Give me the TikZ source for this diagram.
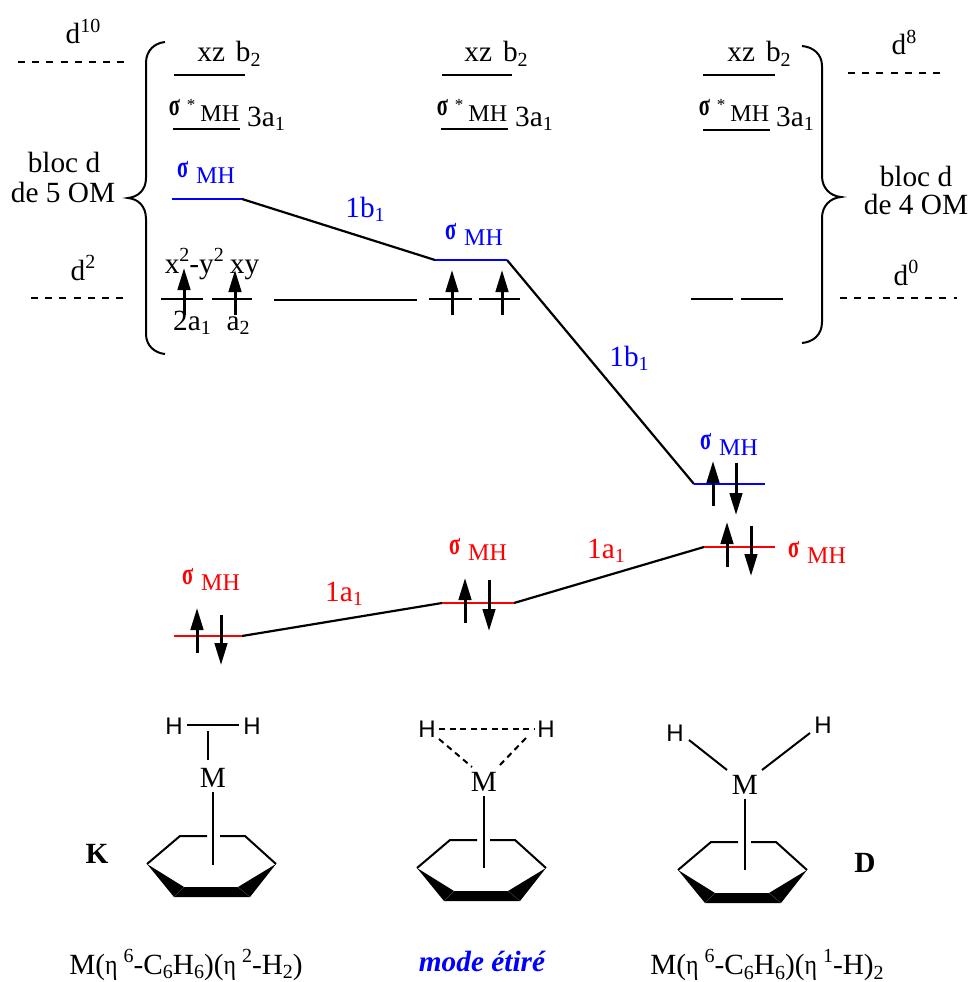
\documentclass[tikz,border=0pt]{standalone}
\usepackage{graphicx}
\usepackage{fontspec}
\setmainfont{Liberation Serif}
\newfontfamily\hfont{Liberation Sans}
\usetikzlibrary{arrows.meta,calc}
\newcommand\myup[1]{\raisebox{0.40em}{\fontsize{20}{20}\selectfont #1}}
\newcommand\mydn[1]{\raisebox{-0.17em}{\fontsize{20}{20}\selectfont #1}}
\newcommand\mysig{\raisebox{5.5pt}{\scalebox{.66}[1]{\fontsize{31}{31}\selectfont\bfseries σ}}}
\newcommand\sigMH{\mysig\hspace{8pt}{\fontsize{24}{24}\selectfont MH}}
\newcommand\sigStar{\mysig\hspace{7pt}\raisebox{10pt}{\fontsize{17}{17}\selectfont *}\hspace{5pt}{\fontsize{24}{24}\selectfont MH}}
\newcommand\myeta{\scalebox{.85}[1]{\fontsize{28}{28}\selectfont η}}
\tikzset{
  x=1pt,y=-1pt,
  txt/.style={inner sep=0pt,anchor=base,font=\fontsize{29.3}{29.3}\selectfont},
  hat/.style={inner sep=0pt,anchor=center,font=\hfont\fontsize{24}{24}\selectfont},
  lvl/.style={line width=2.2pt,black},
  dashlvl/.style={line width=2pt,dash pattern=on 7pt off 7.2pt},
  conn/.style={line width=2.2pt,black},
  bond/.style={line width=2pt,black},
  dbond/.style={line width=2pt,dash pattern=on 6pt off 4.5pt},
  brc/.style={line width=2pt,black},
  elec/.style={line width=3pt,-{Triangle[length=22pt,width=12.5pt]},black},
}
\newcommand\ringat[3]{%
  \begin{scope}[shift={(#2,#3)}]
    \coordinate (#1l) at (0,0);
    \coordinate (#1tl) at (33,-28);
    \coordinate (#1tr) at (98,-28);
    \coordinate (#1r) at (129,0);
    \coordinate (#1il) at (37,23);
    \coordinate (#1ir) at (91,23);
    \coordinate (#1ol) at (27,33);
    \coordinate (#1or) at (103,33);
    \fill[black] (#1l) -- (#1il) -- (#1ir) -- (#1r) -- (#1or) -- (#1ol) -- cycle;
    \draw[black!55,line width=0.2pt] (#1il) -- (#1ol) (#1ir) -- (#1or);
    \draw[bond,line join=miter] (#1l) -- (#1tl) -- ++(27,0);
    \draw[bond,line join=miter] (#1r) -- (#1tr) -- ++(-25,0);
  \end{scope}}
\begin{document}
\begin{tikzpicture}
\useasboundingbox (0,0) rectangle (968,982);
\fill[white] (0,0) rectangle (968,982);

% --- level end points
\foreach \n/\xa/\xb/\yy in {xa/174/245/75, xb/442/512/75, xc/703/775/75,
  sa/173/240/129, sb/441/508/129, sc/703/770/130,
  ba/172/242/199, bb/435/507/260, bc/694/765/484,
  ra/174/242/636, rb/442/514/603, rc/704/775/547,
  pa/161/203/299, qa/212/252/299, pb/429/472/299, qb/479/520/299,
  pc/691/733/299, qc/741/783/299, mid/274/417/300,
  dten/18/125/62, deight/848/945/73, dtwo/31/125/298, dzero/840/957/298}
  {\coordinate (\n L) at (\xa,\yy); \coordinate (\n R) at (\xb,\yy);}

% --- dashed reference levels
\foreach \n in {dten,deight,dtwo,dzero} \draw[dashlvl] (\n L) -- (\n R);

% --- black levels
\foreach \n in {xa,xb,xc,sa,sb,sc,pa,qa,pb,qb,pc,qc,mid} \draw[lvl] (\n L) -- (\n R);

% --- connectors
\draw[conn] (baR) -- (bbL);
\draw[conn] (bbR) -- (bcL);
\draw[conn] (raR) -- (rbL);
\draw[conn] (rbR) -- (rcL);

% --- coloured levels
\foreach \n in {ba,bb,bc} \draw[lvl,draw=blue] (\n L) -- (\n R);
\foreach \n in {ra,rb,rc} \draw[lvl,draw=red] (\n L) -- (\n R);

% --- braces
\draw[brc] (165,42) .. controls (155,43) and (146,50) .. (146,63) -- (146,178)
  .. controls (146,190) and (138,197) .. (128,198)
  .. controls (138,199) and (146,206) .. (146,219) -- (146,334)
  .. controls (146,346) and (155,353) .. (165,354);
\draw[brc] (802,46) .. controls (813,47) and (822,54) .. (822,66) -- (822,176)
  .. controls (822,188) and (830,196) .. (841,197)
  .. controls (830,198) and (822,206) .. (822,218) -- (822,322)
  .. controls (822,335) and (813,342) .. (802,343);

% --- electrons
\foreach \x/\a/\b in {184/315/268, 235/315/270, 452/315/270, 502/315/270,
  713/506/461, 727/567/522, 465/623/578, 197/653/608}
  {\coordinate (eS) at (\x,\a); \coordinate (eT) at (\x,\b); \draw[elec] (eS) -- (eT);}
\foreach \x/\a/\b in {736/463/515, 751/526/576, 489/580/631, 221/615/665}
  {\coordinate (eS) at (\x,\a); \coordinate (eT) at (\x,\b); \draw[elec] (eS) -- (eT);}

% --- top labels
\node[txt] (t1) at (83,44) {d\myup{10}};
\node[txt] (t2) at (83,280) {d\myup{2}};
\node[txt] (t3) at (904,55) {d\myup{8}};
\node[txt] (t4) at (906,285) {d\myup{0}};
\node[txt] (t5) at (64,172) {bloc d};
\node[txt] (t6) at (63,202) {de 5 OM};
\node[txt] (t7) at (916,186) {bloc d};
\node[txt] (t8) at (916,214) {de 4 OM};
\node[txt] (x1) at (229,62) {xz\hspace{11pt}b\mydn{2}};
\node[txt] (x2) at (496,62) {xz\hspace{11pt}b\mydn{2}};
\node[txt] (x3) at (759,62) {xz\hspace{11pt}b\mydn{2}};
\node[txt] (s1) at (204,121) {\sigStar};
\node[txt] (s2) at (472,121) {\sigStar};
\node[txt] (s3) at (734,121) {\sigStar};
\node[txt] (a1) at (266,126) {3a\mydn{1}};
\node[txt] (a2) at (534,126) {3a\mydn{1}};
\node[txt] (a3) at (795,126) {3a\mydn{1}};
\node[txt,blue] (b1) at (206,183) {\sigMH};
\node[txt,blue] (b2) at (474,245) {\sigMH};
\node[txt,blue] (b3) at (729,455) {\sigMH};
\node[txt,red] (r1) at (211,590) {\sigMH};
\node[txt,red] (r2) at (478,560) {\sigMH};
\node[txt,red] (r3) at (817,563) {\sigMH};
\node[txt] (o1) at (212,273) {x\myup{2}-y\myup{2}\hspace{6pt}xy};
\node[txt] (o2) at (192,330) {2a\mydn{1}};
\node[txt] (o3) at (238,330) {a\mydn{2}};
\node[txt,blue] (l1) at (365,217) {1b\mydn{1}};
\node[txt,blue] (l2) at (629,366) {1b\mydn{1}};
\node[txt,red] (l3) at (344,601) {1a\mydn{1}};
\node[txt,red] (l4) at (606,558) {1a\mydn{1}};

% --- complexes
\ringat{A}{147}{864}
\ringat{B}{417}{868}
\ringat{C}{678}{870}

\node[txt] (MA) at (213,787) {M};
\node[hat] (H1) at (174,726) {H};
\node[hat] (H2) at (252,726) {H};
\coordinate (SA) at (213,865);
\coordinate (HM) at (208,731);
\coordinate (HMb) at (208,760);
\draw[bond] ($(H1)+(13,-1)$) -- ($(H2)+(-13,-1)$);
\draw[bond] (HM) -- (HMb);
\draw[bond] ($(MA.base)+(0,5)$) -- (SA);

\node[txt] (MB) at (484,791) {M};
\node[hat] (H3) at (427,729) {H};
\node[hat] (H4) at (546,729) {H};
\coordinate (SB) at (484,868);
\draw[dbond] ($(H3)+(12,0)$) -- ($(H4)+(-12,0)$);
\draw[dbond] ($(H3)+(12,10)$) -- ($(MB.base)+(-12,-24)$);
\draw[dbond] ($(H4)+(-20,9)$) -- ($(MB.base)+(14,-24)$);
\draw[bond] ($(MB.base)+(0,5)$) -- (SB);

\node[txt] (MC) at (745,794) {M};
\node[hat] (H5) at (675,733) {H};
\node[hat] (H6) at (823,725) {H};
\coordinate (SC) at (745,870);
\draw[bond] ($(H5)+(14,7)$) -- ($(MC.base)+(-18,-24)$);
\draw[bond] ($(H6)+(-13,8)$) -- ($(MC.base)+(17,-24)$);
\draw[bond] ($(MC.base)+(0,5)$) -- (SC);

\node[txt,font=\fontsize{29.3}{29.3}\selectfont\bfseries] (K) at (97,863) {K};
\node[txt,font=\fontsize{29.3}{29.3}\selectfont\bfseries] (D) at (865,872) {D};

% --- captions
\node[txt] (c1) at (186,974) {M(\myeta\hspace{6pt}\myup{6}-C\mydn{6}H\mydn{6})(\myeta\hspace{6pt}\myup{2}-H\mydn{2})};
\node[txt,blue,font=\fontsize{29.3}{29.3}\selectfont\bfseries\itshape] (c2) at (482,971) {mode étiré};
\node[txt] (c3) at (767,974.5) {M(\myeta\hspace{6pt}\myup{6}-C\mydn{6}H\mydn{6})(\myeta\hspace{6pt}\myup{1}-H)\mydn{2}};
\end{tikzpicture}
\end{document}
